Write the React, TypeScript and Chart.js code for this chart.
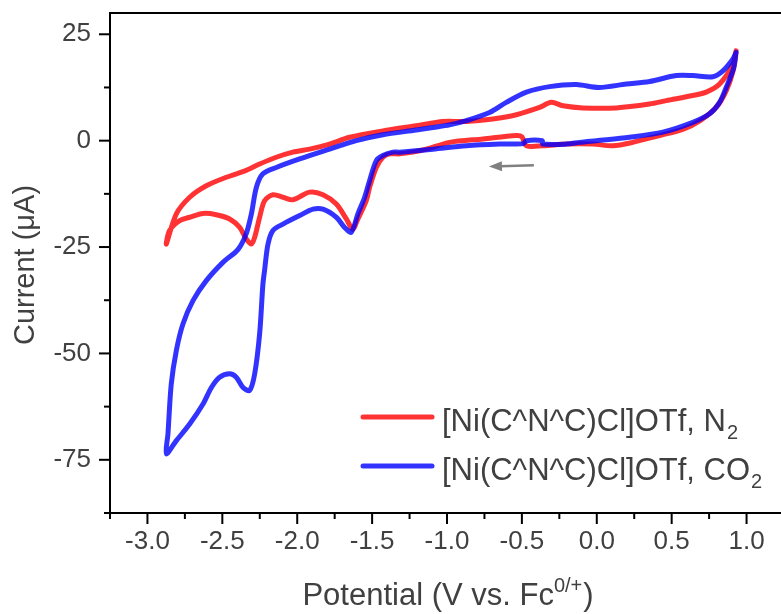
import React, { useEffect, useRef } from 'react';
import { Chart, registerables } from 'chart.js';

Chart.register(...registerables);

// ---- Data ----
const n2Potential = [
  0.93, 0.91, 0.864, 0.797, 0.69, 0.578, 0.42, 0.24, 0.107, -0.026, -0.203, -0.36, -0.47, -0.5, -0.537,
  -0.76, -0.983, -1.138, -1.228, -1.317, -1.383, -1.428, -1.472, -1.517, -1.539, -1.6, -1.629, -1.672,
  -1.739, -1.828, -1.917, -2.029, -2.095, -2.162, -2.218, -2.251, -2.284, -2.306, -2.34, -2.384, -2.451,
  -2.54, -2.629, -2.718, -2.785, -2.852, -2.874,
  -2.807, -2.718, -2.607, -2.473, -2.341, -2.251, -2.14, -2.029, -1.917, -1.784, -1.65, -1.428, -1.205,
  -1.027, -0.871, -0.694, -0.537, -0.382, -0.304, -0.226, -0.093, 0.13, 0.352, 0.464, 0.641, 0.731, 0.82,
  0.909, 0.93,
];
const n2Current = [
  21.1, 16.4, 11.7, 7.8, 4.7, 2.7, 1.2, -0.4, -1.2, -0.8, -0.8, -1.2, -1.2, 0.9, 1.2,
  0.4, -0.4, -2.0, -2.7, -3.1, -3.1, -3.9, -6.3, -11.0, -14.1, -18.8, -20.8, -18.4,
  -14.9, -12.7, -12.1, -13.9, -13.3, -12.7, -14.1, -18.0, -22.7, -24.3, -23.1, -20.4, -18.4,
  -17.4, -17.1, -18.0, -18.8, -21.1, -24.3,
  -17.2, -13.3, -10.6, -8.6, -7.0, -5.5, -3.9, -2.7, -2.0, -0.8, 0.8, 2.3, 3.5,
  4.5, 4.5, 5.1, 6.1, 7.8, 9.0, 8.2, 7.7, 7.7, 8.6, 9.4, 10.6, 11.4, 13.3,
  18.0, 21.1,
];
const co2Potential = [
  0.93, 0.915, 0.864, 0.82, 0.753, 0.641, 0.441, 0.218, -0.004, -0.115, -0.203, -0.36, -0.365, -0.47,
  -0.49, -0.648, -0.871, -1.094, -1.317, -1.361, -1.428, -1.472, -1.517, -1.55, -1.595, -1.639, -1.684,
  -1.739, -1.828, -1.895, -1.984, -2.095, -2.162, -2.195, -2.218, -2.229, -2.251, -2.284, -2.318, -2.362,
  -2.407, -2.451, -2.518, -2.573, -2.629, -2.718, -2.807, -2.874,
  -2.863, -2.841, -2.807, -2.763, -2.696, -2.607, -2.496, -2.396, -2.341, -2.306, -2.273, -2.229, -2.14,
  -1.984, -1.784, -1.606, -1.428, -1.205, -1.094, -0.983, -0.871, -0.716, -0.604, -0.47, -0.315, -0.137,
  0.015, 0.197, 0.352, 0.53, 0.641, 0.775, 0.842, 0.909, 0.93,
];
const co2Current = [
  20.7, 17.2, 12.5, 9.0, 6.3, 4.3, 2.0, 0.8, 0.0, -0.4, -0.8, -0.8, 0.0, 0.0,
  -0.7, -0.8, -1.2, -2.0, -2.7, -2.7, -3.5, -4.7, -9.4, -13.3, -17.2, -21.5, -20.4,
  -18.0, -16.1, -16.1, -17.6, -19.6, -21.1, -24.3, -30.5, -33.7, -45.4, -54.8, -58.7, -58.0,
  -55.6, -54.8, -55.6, -58.0, -61.9, -66.6, -70.5, -73.6,
  -68.9, -57.2, -49.3, -43.1, -37.6, -32.9, -28.6, -25.6, -21.9, -17.2, -11.0, -7.8, -6.3,
  -4.3, -2.0, 0.0, 1.4, 2.5, 3.1, 3.7, 4.7, 6.6, 9.0, 11.4, 12.7, 13.2,
  12.5, 13.3, 13.9, 15.3, 15.3, 15.0, 16.4, 19.2, 20.7,
];

const seriesNames = ['[Ni(C^N^C)Cl]OTf, N', '[Ni(C^N^C)Cl]OTf, CO'];
const seriesSubscripts = ['2', '2'];
const seriesColors = ['rgba(255,0,0,0.8)', 'rgba(0,0,255,0.8)'];

const xMajorTicks = [-3.0, -2.5, -2.0, -1.5, -1.0, -0.5, 0.0, 0.5, 1.0];
const xMinorTicks = [-3.25, -2.75, -2.25, -1.75, -1.25, -0.75, -0.25, 0.25, 0.75];
const yMajorTicks = [-75, -50, -25, 0, 25];
const yMinorTicks = [-87.5, -62.5, -37.5, -12.5, 12.5];
const xRange = [-3.25, 1.25];
const yRange = [-87.5, 30];

const xTitleMain = 'Potential (V vs. Fc';
const xTitleSup = '0/+';
const xTitleEnd = ')';
const yTitle = 'Current (μA)';

// scan-direction arrow, in data units
const arrowFrom = [-0.42, -5.8];
const arrowTo = [-0.72, -6.1];

const FONT = "'Liberation Sans', Arial, sans-serif";
const TEXT = '#404040';

const toPoints = (xs: number[], ys: number[]) => xs.map((x, i) => ({ x, y: ys[i] }));

const decorPlugin = {
  id: 'decor',
  afterDraw(chart: any) {
    const { ctx, chartArea, scales } = chart;
    const { left, right, top, bottom } = chartArea;
    const xs = scales.x;
    const ys = scales.y;
    ctx.save();
    // frame (top & right)
    ctx.strokeStyle = '#000';
    ctx.lineWidth = 2;
    ctx.beginPath();
    ctx.moveTo(left - 1, top);
    ctx.lineTo(right, top);
    ctx.lineTo(right, bottom);
    ctx.stroke();
    // ticks
    ctx.lineCap = 'butt';
    const tick = (x1: number, y1: number, x2: number, y2: number) => {
      ctx.beginPath();
      ctx.moveTo(x1, y1);
      ctx.lineTo(x2, y2);
      ctx.stroke();
    };
    xMajorTicks.forEach((v) => { const p = xs.getPixelForValue(v); tick(p, bottom, p, bottom + 11); });
    xMinorTicks.forEach((v) => { const p = xs.getPixelForValue(v); tick(p, bottom, p, bottom + 6); });
    yMajorTicks.forEach((v) => { const p = ys.getPixelForValue(v); tick(left, p, left - 11, p); });
    yMinorTicks.forEach((v) => { const p = ys.getPixelForValue(v); tick(left, p, left - 6, p); });

    // arrow
    const ax1 = xs.getPixelForValue(arrowFrom[0]);
    const ay1 = ys.getPixelForValue(arrowFrom[1]);
    const ax2 = xs.getPixelForValue(arrowTo[0]);
    const ay2 = ys.getPixelForValue(arrowTo[1]);
    const ang = Math.atan2(ay2 - ay1, ax2 - ax1);
    const hl = 13;
    const hw = 5;
    ctx.strokeStyle = '#808080';
    ctx.fillStyle = '#808080';
    ctx.lineWidth = 2.5;
    ctx.beginPath();
    ctx.moveTo(ax1, ay1);
    ctx.lineTo(ax2 - Math.cos(ang) * (hl - 2), ay2 - Math.sin(ang) * (hl - 2));
    ctx.stroke();
    ctx.beginPath();
    ctx.moveTo(ax2, ay2);
    ctx.lineTo(ax2 - Math.cos(ang) * hl - Math.sin(ang) * hw, ay2 - Math.sin(ang) * hl + Math.cos(ang) * hw);
    ctx.lineTo(ax2 - Math.cos(ang) * hl + Math.sin(ang) * hw, ay2 - Math.sin(ang) * hl - Math.cos(ang) * hw);
    ctx.closePath();
    ctx.fill();

    // axis titles
    ctx.fillStyle = TEXT;
    ctx.textBaseline = 'alphabetic';
    // y title
    ctx.save();
    ctx.translate(34, (top + bottom) / 2 + 2);
    ctx.rotate(-Math.PI / 2);
    ctx.font = `29px ${FONT}`;
    ctx.textAlign = 'center';
    ctx.fillText(yTitle, 0, 0);
    ctx.restore();
    // x title with superscript
    ctx.textAlign = 'left';
    ctx.font = `31px ${FONT}`;
    const wMain = ctx.measureText(xTitleMain).width;
    const wEnd = ctx.measureText(xTitleEnd).width;
    ctx.font = `20px ${FONT}`;
    const wSup = ctx.measureText(xTitleSup).width;
    const total = wMain + wSup + wEnd + 1;
    const cx = 448;
    let tx = cx - total / 2;
    const base = 605;
    ctx.font = `31px ${FONT}`;
    ctx.fillText(xTitleMain, tx, base);
    tx += wMain;
    ctx.font = `20px ${FONT}`;
    ctx.fillText(xTitleSup, tx, base - 13);
    tx += wSup + 1;
    ctx.font = `31px ${FONT}`;
    ctx.fillText(xTitleEnd, tx, base);

    // legend
    const legendRows = [431, 480];
    seriesNames.forEach((name, i) => {
      const by = legendRows[i];
      ctx.strokeStyle = seriesColors[i];
      ctx.lineWidth = 5;
      ctx.lineCap = 'round';
      ctx.beginPath();
      ctx.moveTo(363, by - 14);
      ctx.lineTo(432, by - 14);
      ctx.stroke();
      ctx.fillStyle = TEXT;
      ctx.font = `31px ${FONT}`;
      ctx.textAlign = 'left';
      ctx.fillText(name, 442, by);
      const w = ctx.measureText(name).width;
      ctx.font = `20px ${FONT}`;
      ctx.fillText(seriesSubscripts[i], 442 + w + 1, by + 8);
    });
    ctx.restore();
  },
};

export default function App() {
  const ref = useRef<HTMLCanvasElement>(null);
  useEffect(() => {
    const canvas = ref.current;
    if (!canvas) return;
    const chart = new Chart(canvas, {
      type: 'scatter',
      data: {
        datasets: [
          {
            label: seriesNames[0] + '₂',
            data: toPoints(n2Potential, n2Current),
            showLine: true,
            borderColor: seriesColors[0],
            backgroundColor: seriesColors[0],
            borderWidth: 5,
            pointRadius: 0,
            tension: 0.3,
            borderJoinStyle: 'round',
            borderCapStyle: 'round',
            order: 2,
          },
          {
            label: seriesNames[1] + '₂',
            data: toPoints(co2Potential, co2Current),
            showLine: true,
            borderColor: seriesColors[1],
            backgroundColor: seriesColors[1],
            borderWidth: 5,
            pointRadius: 0,
            tension: 0.3,
            borderJoinStyle: 'round',
            borderCapStyle: 'round',
            order: 1,
          },
        ],
      },
      options: {
        animation: false,
        responsive: true,
        maintainAspectRatio: false,
        layout: { padding: { top: 13, right: 16, left: 0, bottom: 0 } },
        plugins: { legend: { display: false }, tooltip: { enabled: false } },
        events: [],
        scales: {
          x: {
            type: 'linear',
            min: xRange[0],
            max: xRange[1],
            grid: { display: false, drawTicks: false },
            border: { display: true, color: '#000', width: 2 },
            afterBuildTicks: (s: any) => { s.ticks = xMajorTicks.map((v) => ({ value: v })); },
            afterFit: (s: any) => {
              s.height = 101;
              s.paddingLeft = 0;
              s.paddingRight = 0;
              s.paddingTop = 0;
              s.paddingBottom = 0;
            },
            ticks: {
              color: TEXT,
              font: { family: FONT, size: 26 },
              padding: 13,
              maxRotation: 0,
              autoSkip: false,
              callback: (v: any) => Number(v).toFixed(1),
            },
          },
          y: {
            type: 'linear',
            min: yRange[0],
            max: yRange[1],
            grid: { display: false, drawTicks: false },
            border: { display: true, color: '#000', width: 2 },
            afterBuildTicks: (s: any) => { s.ticks = yMajorTicks.map((v) => ({ value: v })); },
            afterFit: (s: any) => {
              s.width = 110;
              s.paddingTop = 0;
              s.paddingBottom = 0;
              s.paddingLeft = 0;
              s.paddingRight = 0;
            },
            ticks: {
              color: TEXT,
              font: { family: FONT, size: 26 },
              padding: 19,
              autoSkip: false,
              callback: (v: any) => String(v),
            },
          },
        },
      },
      plugins: [decorPlugin],
    } as any);
    return () => chart.destroy();
  }, []);
  return (
    <div style={{ position: 'fixed', left: 0, top: 0, width: 781, height: 614, overflow: 'hidden', background: '#fff' }}>
      <div style={{ position: 'relative', width: 800, height: 614 }}>
        <canvas ref={ref} />
      </div>
    </div>
  );
}
